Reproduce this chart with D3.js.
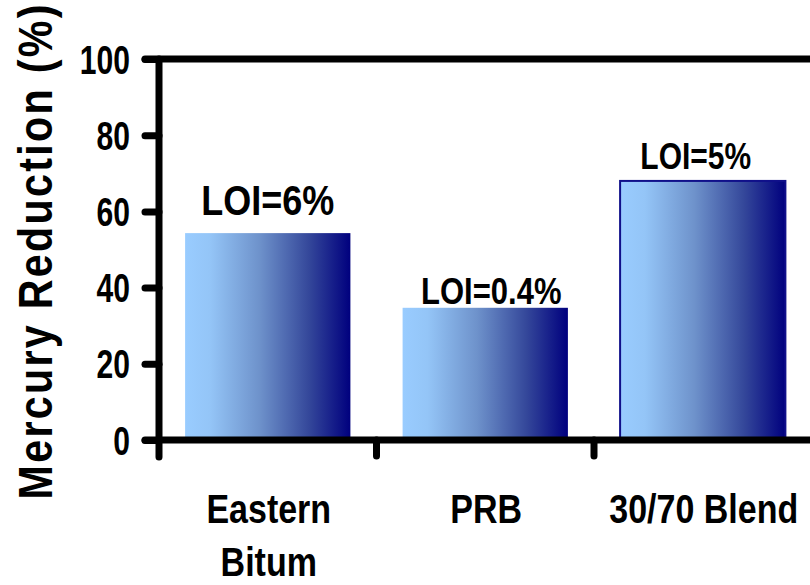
<!DOCTYPE html>
<html>
<head>
<meta charset="utf-8">
<script src="https://cdn.jsdelivr.net/npm/d3@7"></script>
<style>
  html, body { margin: 0; padding: 0; background: #fff; }
  svg { display: block; }
  text { font-family: "Liberation Sans", Arial, sans-serif; font-weight: bold; fill: #000; }
</style>
</head>
<body>
<svg id="chart" width="810" height="585"></svg>
<script>
// ---- data ----
const categories = ["Eastern\nBitum", "PRB", "30/70 Blend"];
const reductionValues = [54.3, 34.7, 68];
const loiLabels = ["LOI=6%", "LOI=0.4%", "LOI=5%"];
const yTicks = [0, 20, 40, 60, 80, 100];
const yTitle = "Mercury Reduction (%)";

// ---- layout ----
const W = 810, H = 585;
const axisX = 159, yTop = 59, yZero = 440, rightEdge = 811.5;
const SY = 1.2; // vertical stretch of text

const svg = d3.select("#chart");

const x = d3.scaleBand().domain(categories).range([axisX, rightEdge])
  .paddingInner(0.24).paddingOuter(0.12);
const y = d3.scaleLinear().domain([0, 100]).range([yZero, yTop]);

// gradient
const defs = svg.append("defs");
const grad = defs.append("linearGradient").attr("id", "barGrad")
  .attr("x1", "0%").attr("x2", "100%").attr("y1", "0%").attr("y2", "0%");
[[0, "#99ccff"], [0.15, "#94c5f7"], [0.45, "#6e92cb"], [0.75, "#34479a"], [1, "#00007e"]]
  .forEach(([o, c]) => grad.append("stop").attr("offset", o).attr("stop-color", c));

// bars
svg.append("g").selectAll("rect").data(categories).join("rect")
  .attr("x", d => x(d))
  .attr("y", (d, i) => y(reductionValues[i]))
  .attr("width", x.bandwidth())
  .attr("height", (d, i) => y(0) - y(reductionValues[i]))
  .attr("fill", "url(#barGrad)")
  .attr("stroke", (d, i) => i === 2 ? "#10108a" : "none")
  .attr("stroke-width", 2);

// LOI labels (free-placed text boxes above bars)
const labelStyle = [
  { size: 36, dx: 0, gap: 18 },
  { size: 31, dx: 6, gap: 4 },
  { size: 30, dx: -7, gap: 12 }
];
svg.append("g").selectAll("g").data(loiLabels).join("g")
  .attr("transform", (d, i) => `translate(${x(categories[i]) + x.bandwidth() / 2 + labelStyle[i].dx},${y(reductionValues[i]) - labelStyle[i].gap}) scale(1,${SY})`)
  .append("text")
  .attr("text-anchor", "middle")
  .style("font-size", (d, i) => labelStyle[i].size + "px")
  .text(d => d);

// axes lines
const axisG = svg.append("g").attr("stroke", "#000").attr("stroke-width", 7).attr("stroke-linecap", "round");
axisG.append("line").attr("x1", 145).attr("x2", W + 10).attr("y1", y(100)).attr("y2", y(100));
axisG.append("line").attr("x1", 145).attr("x2", W + 10).attr("y1", y(0)).attr("y2", y(0));
axisG.append("line").attr("x1", axisX).attr("x2", axisX).attr("y1", y(100)).attr("y2", y(0) + 17);

// y axis ticks via d3 axis
const yAxis = d3.axisLeft(y).tickValues(yTicks).tickSizeInner(14).tickSizeOuter(0).tickPadding(17)
  .tickFormat(d3.format("d"));
const yg = svg.append("g").attr("transform", `translate(${axisX},0)`).call(yAxis);
yg.select(".domain").remove();
yg.selectAll(".tick line").attr("stroke", "#000").attr("stroke-width", 7).attr("stroke-linecap", "round");
yg.selectAll(".tick text")
  .attr("dy", null).attr("y", 11.3)
  .attr("transform", `scale(0.94,${SY * 1.04})`)
  .style("font-size", "32px").style("font-family", "'Liberation Sans', Arial, sans-serif")
  .style("font-weight", "bold").attr("fill", "#000");

// x axis ticks at band boundaries
const step = x.step();
const boundaries = categories.slice(1).map(c => x(c) - x.paddingInner() * step / 2);
svg.append("g").selectAll("line").data(boundaries).join("line")
  .attr("x1", d => d).attr("x2", d => d)
  .attr("y1", y(0)).attr("y2", y(0) + 16)
  .attr("stroke", "#000").attr("stroke-width", 7).attr("stroke-linecap", "round");

// category labels
const catG = svg.append("g").selectAll("g").data(categories).join("g")
  .attr("transform", d => `translate(${x(d) + x.bandwidth() / 2 + 1},523) scale(1,${SY})`);
catG.append("text")
  .attr("text-anchor", "middle")
  .style("font-size", "34px")
  .selectAll("tspan").data(d => d.split("\n")).join("tspan")
  .attr("x", 0)
  .attr("dy", (d, i) => i === 0 ? 0 : 53 / SY)
  .text(d => d);

// y title (condensed glyphs, wide spacing)
const TSX = 0.86;
svg.append("text")
  .attr("transform", `translate(52,252) rotate(-90) scale(${TSX},1)`)
  .attr("text-anchor", "middle")
  .attr("textLength", 495 / TSX)
  .attr("lengthAdjust", "spacing")
  .style("font-size", "48px")
  .text(yTitle);
</script>
</body>
</html>
